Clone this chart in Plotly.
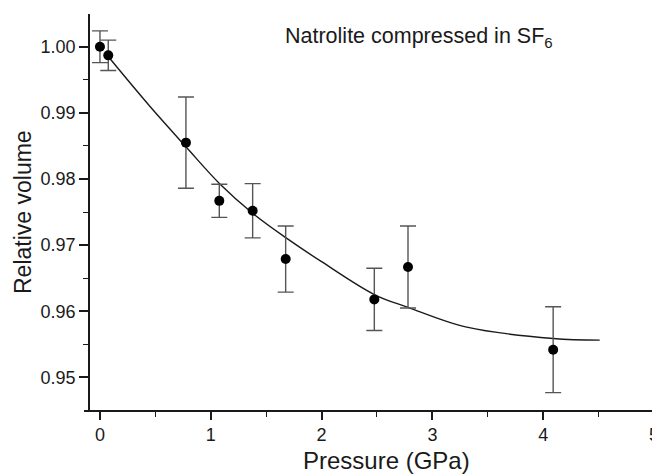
import plotly.graph_objects as go

pressure = [0.0, 0.075, 0.776, 1.077, 1.378, 1.676, 2.476, 2.78, 4.09]
rel_volume = [1.0000, 0.9987, 0.9855, 0.9767, 0.9752, 0.9679, 0.9618, 0.9667, 0.9542]
volume_err = [0.0024, 0.0023, 0.0069, 0.0025, 0.0041, 0.0050, 0.0047, 0.0062, 0.0065]

# Fitted curve
fit_pressure = [0.08, 0.45, 0.78, 1.08, 1.38, 1.68, 2.0, 2.48, 2.78, 3.31, 4.09, 4.51]
fit_volume = [0.9984, 0.9910, 0.9848, 0.9793, 0.9748, 0.9711, 0.9675, 0.9625, 0.9606, 0.9576, 0.9559, 0.95565]

x_ticks = [0, 1, 2, 3, 4, 5]
y_ticks = [0.95, 0.96, 0.97, 0.98, 0.99, 1.00]
annotation_text = "Natrolite compressed in SF<sub>6</sub>"
x_title = "Pressure (GPa)"
y_title = "Relative volume"

FONT = "Liberation Sans, Arial, sans-serif"
INK = "#1a1a1a"

fig = go.Figure()
fig.add_trace(go.Scatter(
    x=fit_pressure, y=fit_volume, mode="lines",
    line=dict(color=INK, width=1.4, shape="spline", smoothing=1.0),
    hoverinfo="skip", showlegend=False,
))
fig.add_trace(go.Scatter(
    x=pressure, y=rel_volume, mode="markers",
    marker=dict(color="black", size=10),
    error_y=dict(type="data", array=volume_err, visible=True,
                 color="#555555", thickness=1.4, width=8),
    showlegend=False,
))

fig.add_annotation(
    x=1.65, y=1.0014, xref="x", yref="y",
    text=annotation_text, showarrow=False,
    xanchor="left", yanchor="middle",
    font=dict(family=FONT, size=21.5, color=INK),
)
# axis titles
fig.add_annotation(
    x=0.53, y=-0.128, xref="paper", yref="paper",
    text=x_title, showarrow=False, xanchor="center", yanchor="middle",
    font=dict(family=FONT, size=24, color=INK),
)
fig.add_annotation(
    x=-0.107, y=0.5, xref="paper", yref="paper",
    text=y_title, showarrow=False, xanchor="center", yanchor="middle",
    textangle=-90,
    font=dict(family=FONT, size=23, color=INK),
)

# page body adds an 8px offset, so the figure is sized to keep the plot area in place
fig.update_layout(
    width=652, height=468,
    margin=dict(l=76, r=6, t=6, b=66, autoexpand=False),
    paper_bgcolor="white", plot_bgcolor="white",
    font=dict(family=FONT, color=INK),
    xaxis=dict(
        range=[-0.144, 5.0], tickvals=x_ticks, ticktext=[str(v) for v in x_ticks],
        showgrid=False, zeroline=False, showline=True, linecolor=INK, linewidth=1.6,
        ticks="outside", ticklen=8, tickwidth=1.6, tickcolor=INK,
        tickfont=dict(family=FONT, size=18, color=INK),
        minor=dict(dtick=0.5, tick0=0, ticks="outside", ticklen=5, tickwidth=1.4, tickcolor=INK),
        anchor="y", automargin=False,
    ),
    yaxis=dict(
        range=[0.94508, 1.00495], tickvals=y_ticks, ticktext=[f"{v:.2f}" for v in y_ticks],
        showgrid=False, zeroline=False, showline=True, linecolor=INK, linewidth=1.6,
        ticks="outside", ticklen=9, tickwidth=1.6, tickcolor=INK,
        tickfont=dict(family=FONT, size=18, color=INK),
        minor=dict(dtick=0.005, tick0=0.95, ticks="outside", ticklen=5, tickwidth=1.4, tickcolor=INK),
        anchor="free", position=0.0088, automargin=False,
    ),
)

fig.write_html("out.html")
